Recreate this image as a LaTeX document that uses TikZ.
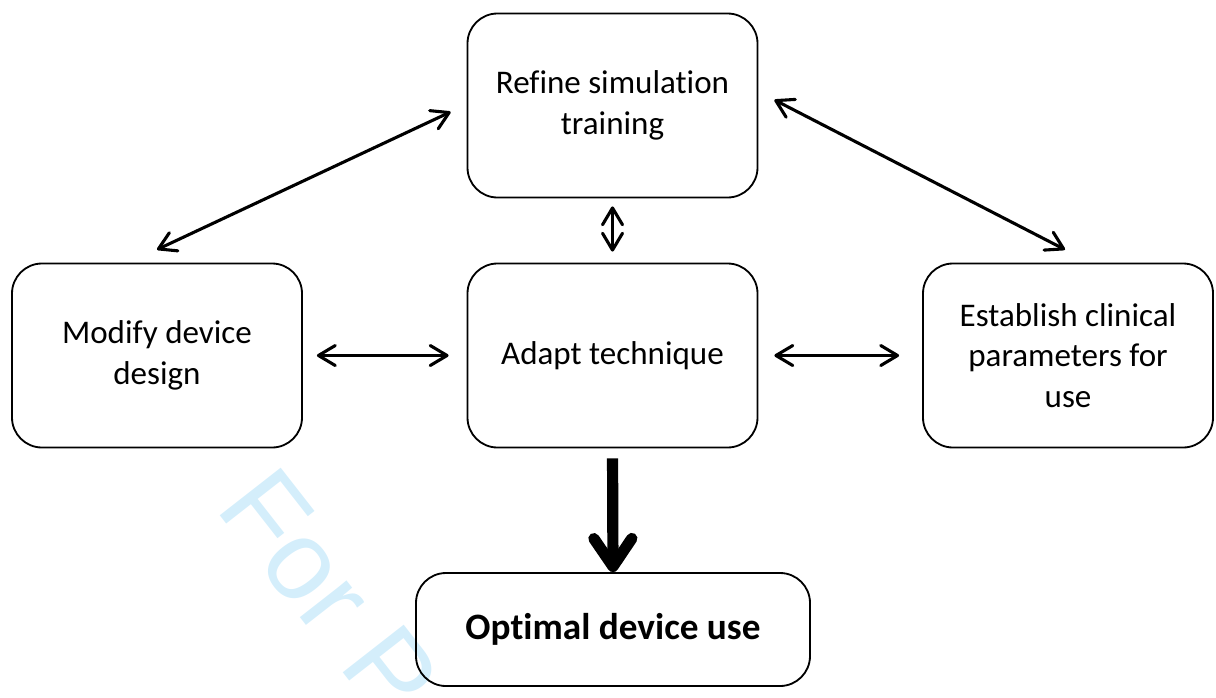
\documentclass[tikz,border=0pt]{standalone}
\usepackage{fontspec}
\setmainfont{Carlito}[Ligatures=NoCommon]
\newfontfamily\wmfont{Liberation Sans}
\usepackage{tikz}
\usetikzlibrary{positioning,arrows.meta}

\definecolor{wmark}{RGB}{212,238,251}

\begin{document}
\begin{tikzpicture}
	\tikzset{step box/.style={draw,line width=1.3pt,rounded corners=0.75cm,align=center,minimum width=7.25cm,minimum height=4.6cm,font=\fontsize{23.5}{29}\selectfont},
		link/.style={line width=2.2pt,>={Straight Barb[length=0.42cm,width=0.5cm,line join=round,line cap=round]}}}
	\useasboundingbox (0,0) rectangle (30.4,-17.425);

	%% watermark
	\begin{scope}
		\clip (0,0) rectangle (30.4,-17.425);
		\node[wmark,anchor=base west,rotate=-52,font=\wmfont\fontsize{80}{84}\selectfont,inner sep=0pt] (wm) at (5.36,-12.7) {For Peer Review};
	\end{scope}

	\node[step box] (refine) at (15.3125,-2.6375) {Refine simulation\\training};
	\node[step box] (modify) at (3.925,-8.8875) {Modify device\\design};
	\node[step box] (adapt) at (15.3125,-8.8875) {Adapt technique};
	\node[step box] (establish) at (26.7,-8.8875) {Establish clinical\\parameters for\\use};
	\node[step box,minimum width=9.85cm,minimum height=2.825cm,font=\fontsize{26.5}{30}\selectfont\bfseries] (optimal) at (15.325,-15.7375) {Optimal device use};

	\path[link,<->]
		(modify.east) edge[shorten <=0.35cm,shorten >=0.45cm] (adapt.west)
		(adapt.east) edge[shorten <=0.4cm,shorten >=0.575cm] (establish.west)
		(refine.south) edge[shorten <=0.2cm,shorten >=0.275cm] (adapt.north)
		([yshift=0.325cm]modify.north) edge ([xshift=-0.4cm,yshift=-0.16cm]refine.west)
		([xshift=0.4cm,yshift=0.14cm]refine.east) edge ([xshift=-0.075cm,yshift=0.325cm]establish.north);
	\draw[line width=0.28cm,-{Straight Barb[length=0.7cm,width=0.95cm,line join=round,line cap=round]},shorten <=0.25cm] (adapt.south) -- (optimal.north);
\end{tikzpicture}
\end{document}
